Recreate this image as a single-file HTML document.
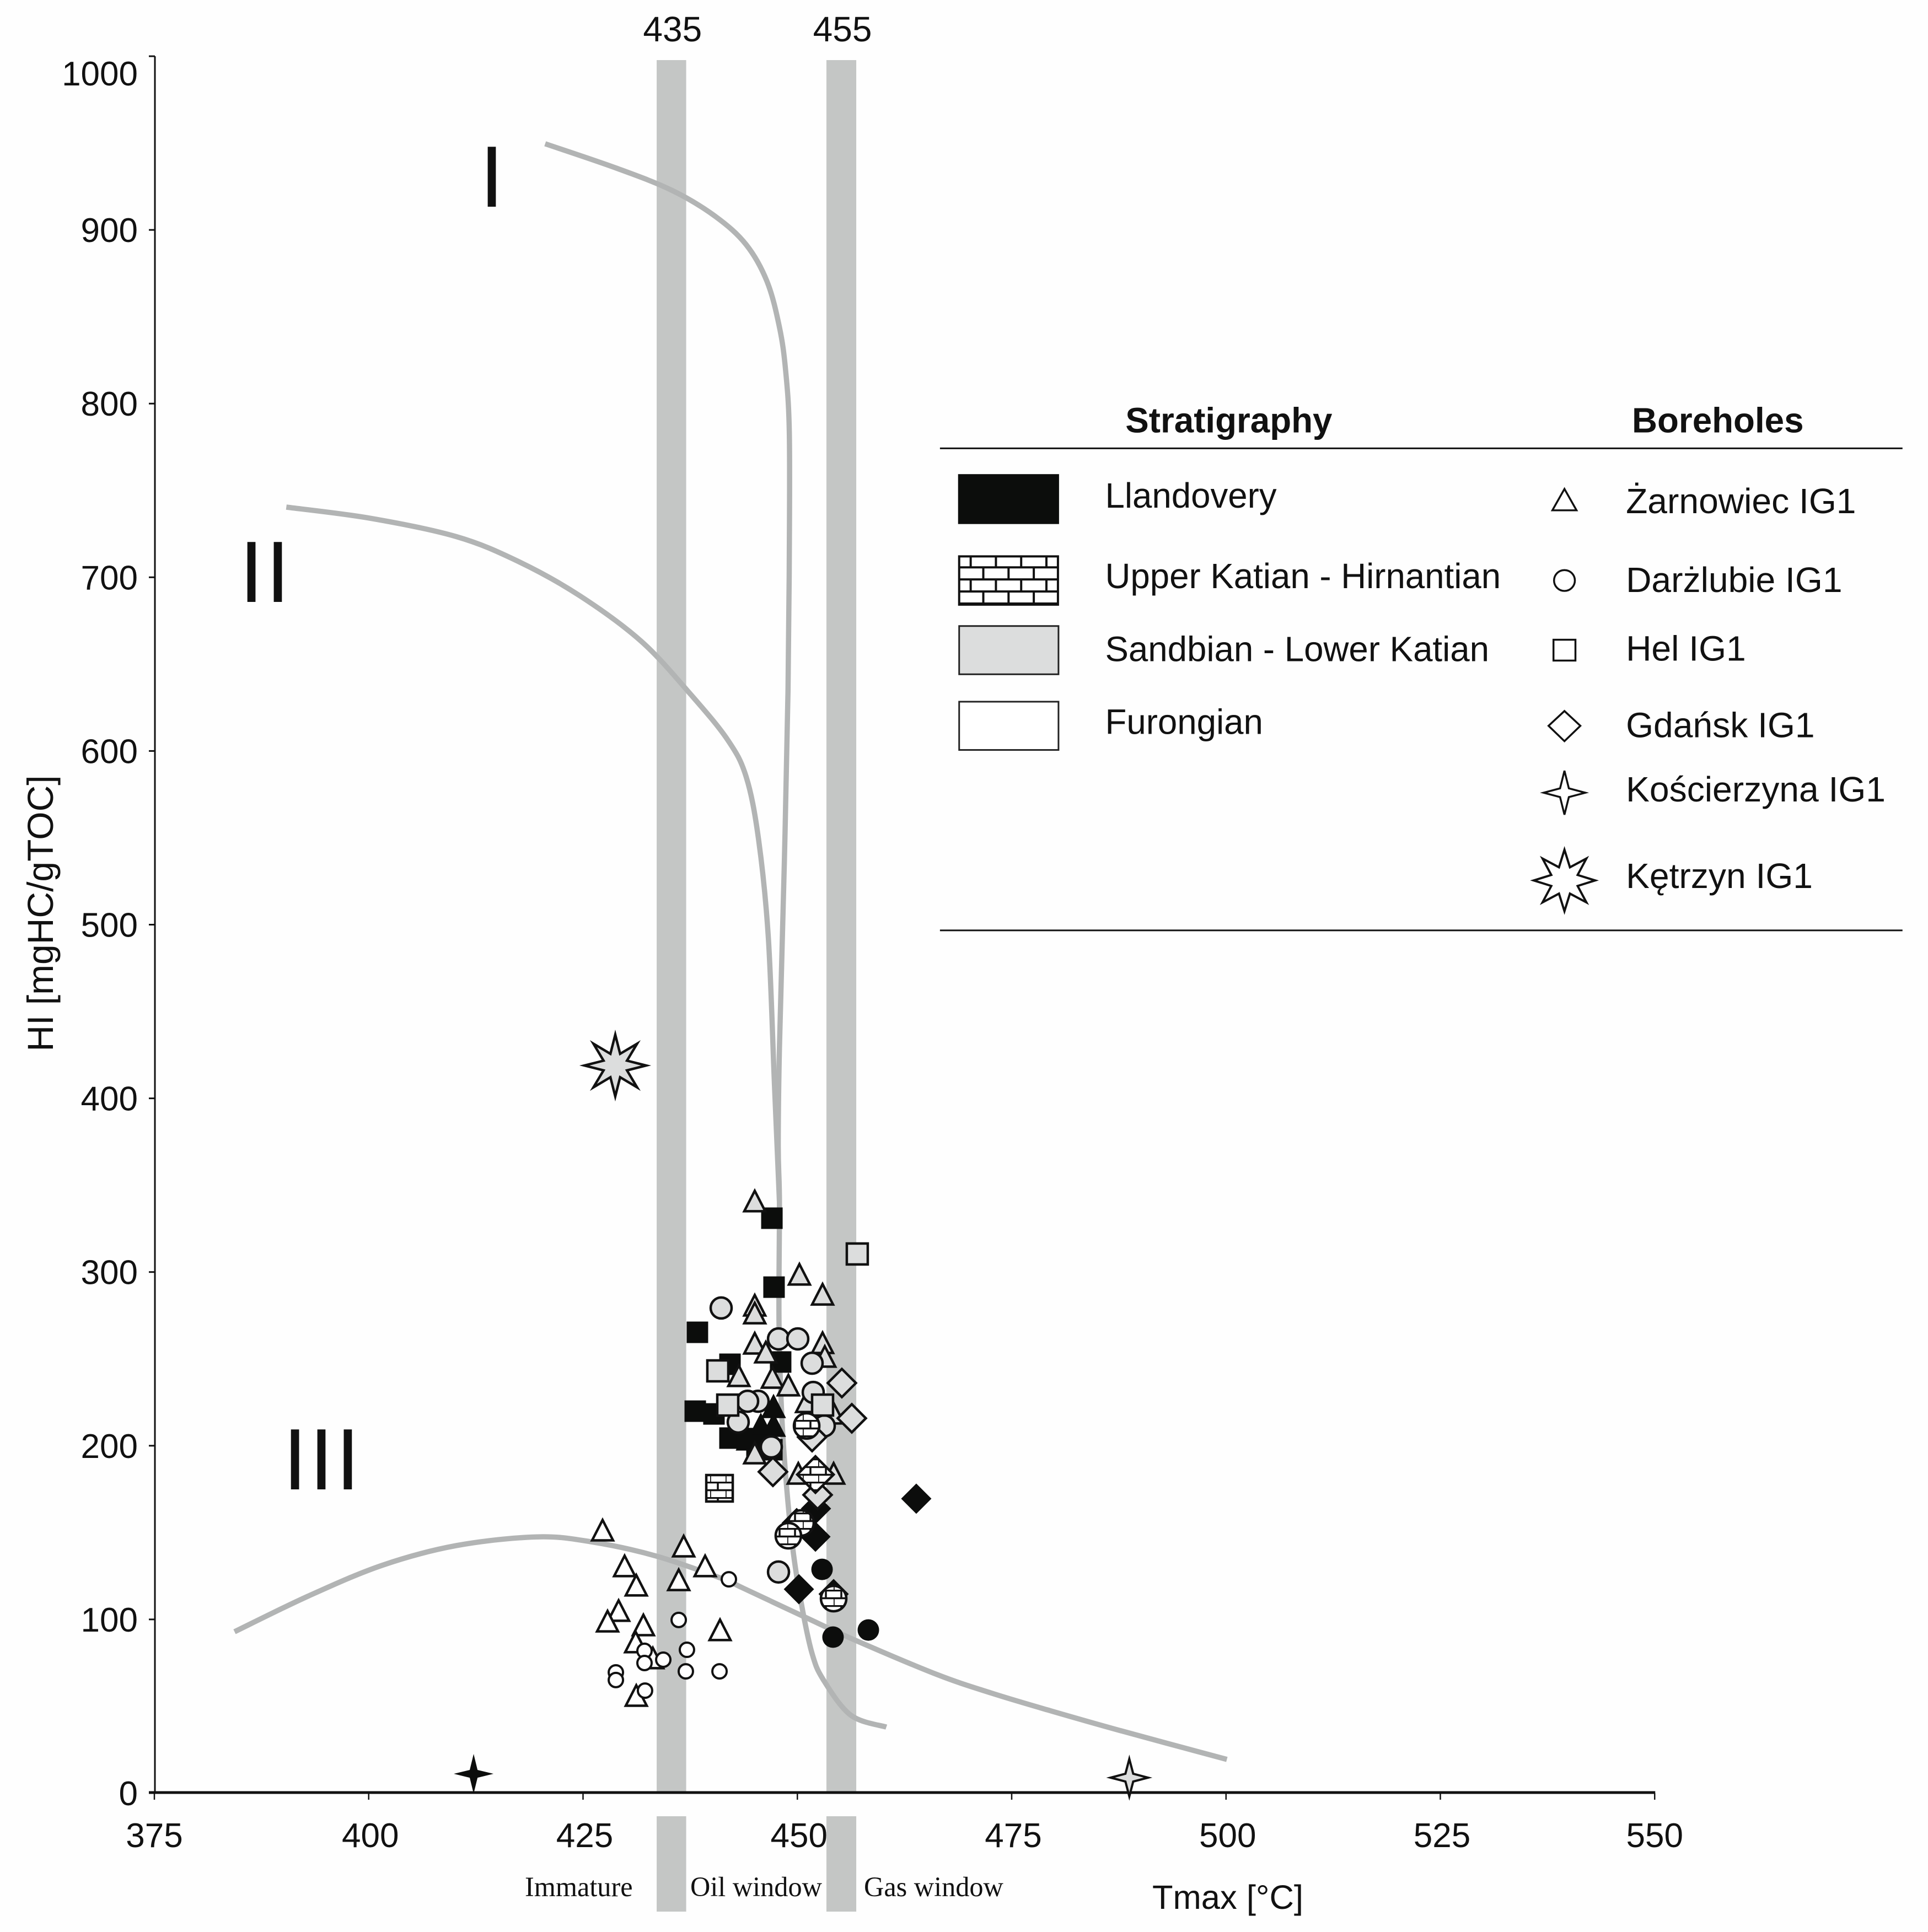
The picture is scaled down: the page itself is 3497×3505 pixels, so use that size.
<!DOCTYPE html>
<html lang="en">
<head>
<meta charset="utf-8">
<title>HI vs Tmax diagram</title>
<style>
html,body{margin:0;padding:0;background:#fefefe;}
svg{display:block;}
text{font-family:"Liberation Sans",sans-serif;fill:#111;}
.serif{font-family:"Liberation Serif",serif;}
</style>
</head>
<body>
<svg id="chart" xmlns="http://www.w3.org/2000/svg" width="3497" height="3505" viewBox="0 0 3497 3505">
<defs>
<pattern id="brick" patternUnits="userSpaceOnUse" width="28" height="28">
<rect width="28" height="28" fill="#fff"/>
<path d="M0 1.5H28M0 15.5H28M14 1.5V15.5M0 15.5V28" stroke="#111" stroke-width="3.5" fill="none"/>
</pattern>
<pattern id="brick-large" patternUnits="userSpaceOnUse" x="1738" y="1009" width="46" height="44">
<rect width="46" height="44" fill="#fff"/>
<path d="M0 22H46M0 44H46M0 0H46M23 0V22M0 22V44M46 22V44" stroke="#111" stroke-width="4" fill="none"/>
</pattern>
</defs>
<rect width="3497" height="3505" fill="#fefefe"/>
<g id="plot"></g>

<g transform="translate(7.8,3.64) scale(0.99536,0.9948)">
<line x1="1705" y1="814" x2="3459" y2="814" stroke="#111" stroke-width="3"/>
<line x1="1705" y1="1693" x2="3459" y2="1693" stroke="#111" stroke-width="3"/>
<text x="2043" y="785" font-size="64" font-weight="bold">Stratigraphy</text>
<text x="2966" y="785" font-size="64" font-weight="bold">Boreholes</text>

<rect x="1738" y="861" width="184" height="91" fill="#0c0d0c"/>
<rect x="1740" y="1011" width="180" height="88" fill="url(#brick-large)" stroke="#111" stroke-width="4"/>
<rect x="1740" y="1138" width="181" height="88" fill="#dcdddd" stroke="#222" stroke-width="3"/>
<rect x="1740" y="1276" width="181" height="88" fill="#fff" stroke="#222" stroke-width="3"/>

<text x="2006" y="922" font-size="63.9">Llandovery</text>
<text x="2006" y="1069" font-size="63.9">Upper Katian - Hirnantian</text>
<text x="2006" y="1202" font-size="63.9">Sandbian - Lower Katian</text>
<text x="2006" y="1335" font-size="63.9">Furongian</text>

<polygon points="2843,888 2865,927 2821,927" fill="#fff" stroke="#111" stroke-width="3.5"/>
<circle cx="2843" cy="1055" r="19" fill="#fff" stroke="#111" stroke-width="3.5"/>
<rect x="2823" y="1163" width="40" height="38" fill="#fff" stroke="#111" stroke-width="3.5"/>
<polygon points="2843,1293 2872,1320 2843,1348 2814,1320" fill="#fff" stroke="#111" stroke-width="3.5"/>
<polygon points="2843,1402 2851,1434 2881,1442 2851,1450 2843,1482 2835,1450 2805,1442 2835,1434" fill="#fff" stroke="#111" stroke-width="3.5"/>
<polygon points="2843,1546 2853,1578 2883,1562 2867,1592 2899,1602 2867,1612 2883,1642 2853,1626 2843,1658 2833,1626 2803,1642 2819,1612 2787,1602 2819,1592 2803,1562 2833,1578" fill="#fff" stroke="#111" stroke-width="4"/>

<text x="2955" y="932" font-size="64.5">Żarnowiec IG1</text>
<text x="2955" y="1076" font-size="64.5">Darżlubie IG1</text>
<text x="2955" y="1201" font-size="64.5">Hel IG1</text>
<text x="2955" y="1341" font-size="64.5">Gdańsk IG1</text>
<text x="2955" y="1458" font-size="64.5">Kościerzyna IG1</text>
<text x="2955" y="1616" font-size="64.5">Kętrzyn IG1</text>
</g>

<text x="892" y="375" font-size="158" text-anchor="middle" fill="#000">I</text>
<text x="482" y="1092" font-size="158" letter-spacing="4" text-anchor="middle" fill="#000">II</text>
<text x="585" y="2702" font-size="158" letter-spacing="4" text-anchor="middle" fill="#000">III</text>

<text x="0" y="0" font-size="66" text-anchor="middle" transform="translate(96,1657) rotate(-90)">HI [mgHC/gTOC]</text>
<text x="2227" y="3463" font-size="61.5" text-anchor="middle">Tmax [°C]</text>
<text class="serif" x="952" y="3440" font-size="50.3">Immature</text>
<text class="serif" x="1252" y="3440" font-size="50.3">Oil window</text>
<text class="serif" x="1567" y="3440" font-size="50.3">Gas window</text>
</svg>

<script>
/* ---------- axes ---------- */
const xTickValues = [375, 400, 425, 450, 475, 500, 525, 550];
const yTickValues = [0, 100, 200, 300, 400, 500, 600, 700, 800, 900, 1000];

/* ---------- maturity bands: start / end in Tmax degC ---------- */
const bandStarts = [433.59, 453.39];
const bandEnds = [437.03, 456.87];
const bandLabels = ['435', '455'];

/* ---------- kerogen curves: [Tmax, HI] ---------- */
const curveTypeI = [[420.58,949.6],[428.93,935.5],[435.40,922.7],[440.43,907.8],[444.03,891.5],[446.47,870.2],[447.91,844.0],[448.63,819.1],[449.06,783.7],[449.06,712.8],[448.91,634.8],[448.48,535.5],[447.91,429.1],[447.77,372.3],[447.91,340.4],[447.86,270.7],[448.18,217.7],[448.76,175.5],[449.53,138.4],[450.56,106.6],[451.72,80.3],[453.01,65.4],[456.22,44.9],[460.38,38.0]];
const curveTypeII = [[390.39,740.4],[400.17,734.0],[410.23,723.4],[417.42,709.2],[424.61,689.4],[431.80,663.1],[437.55,632.6],[441.87,606.4],[444.03,585.1],[445.46,549.6],[446.61,492.9],[447.33,407.8],[447.91,340.4]];
const curveTypeIII = [[384.35,92.9],[392.98,113.5],[401.60,131.2],[410.23,142.5],[419.58,147.5],[425.93,144.7],[433.52,136.5],[441.05,123.8],[443.81,117.7],[450.76,101.6],[456.67,88.2],[466.32,68.2],[472.75,57.4],[479.18,47.9],[487.73,35.9],[500.10,19.4]];

/* ---------- samples: [Tmax, HI] ---------- */
const sandbianCirclesBack = [[445.42,225.6]];
const llandoverySquares = [[447.03,331.0],[447.28,291.3],[438.34,265.3],[442.14,246.9],[448.05,248.2],[438.09,219.9],[440.27,218.3],[442.14,204.4],[444.13,204.1],[447.03,197.7],[445.29,199.9]];
const llandoveryTriangles = [[447.22,222.8],[447.22,212.0],[445.74,212.0],[444.26,204.1]];
const llandoveryDiamonds = [[463.87,169.5],[452.11,147.6],[452.17,163.8],[450.18,117.4],[449.92,155.5],[454.23,114.6]];
const llandoveryCircles = [[452.88,128.8],[454.16,89.8],[458.28,93.9]];
const llandoveryStars = [[412.24,11.1]];
const furongianTriangles = [[427.28,151.7],[436.74,142.5],[429.85,131.1],[431.21,120.0],[439.24,131.1],[436.16,123.1],[429.15,105.4],[427.86,99.3],[432.04,97.1],[440.98,94.3],[431.14,87.3],[433.14,78.1],[431.21,56.5]];
const furongianCircles = [[436.16,99.7],[437.12,82.5],[436.99,70.1],[440.92,70.1],[432.17,81.9],[432.17,74.9],[434.36,76.8],[428.83,69.5],[428.83,65.1],[432.23,59.0],[442.01,123.1]];
const sandbianTriangles = [[445.03,341.2],[450.24,299.0],[452.94,287.5],[445.03,281.2],[445.03,276.7],[445.03,259.3],[452.94,259.6],[453.20,251.7],[443.17,240.6],[447.09,239.6],[448.95,235.2],[451.08,225.6],[454.23,219.0],[445.03,196.1],[450.11,184.4],[454.23,184.4],[446.32,254.2]];
const sandbianCircles = [[441.11,279.3],[447.80,261.5],[450.05,261.5],[451.72,247.5],[451.85,230.7],[444.20,225.6],[443.10,213.6],[453.14,211.4],[446.96,199.3],[447.80,127.3]];
const sandbianSquares = [[456.99,310.4],[440.72,243.1],[441.88,223.4],[452.94,223.4]];
const sandbianDiamonds = [[455.19,236.1],[456.35,215.8],[451.72,205.0],[452.04,184.1],[447.15,185.0],[452.36,171.7]];
const sandbianStars = [[488.72,8.9]];
const sandbianBursts = [[428.76,418.9]];
const katianCircles = [[451.08,211.4],[450.43,155.5],[448.95,148.2],[454.23,112.0]];
const katianDiamonds = [[452.11,183.4]];
const katianSquares = [[440.92,175.5]];

/* ---------- scales ---------- */
const X_ORIGIN = 280, X_PER_DEGREE = 15.55;
const Y_ORIGIN = 3253, Y_PER_UNIT = 3.151;
function xScale(v) { return X_ORIGIN + (v - 375) * X_PER_DEGREE; }
function yScale(v) { return Y_ORIGIN - v * Y_PER_UNIT; }

const NS = 'http://www.w3.org/2000/svg';
const plot = document.getElementById('plot');

function make(tag, name, attrs, parent) {
  const el = document.createElementNS(NS, tag);
  
  
  for (const k in attrs) el.setAttribute(k, attrs[k]);
  (parent || plot).appendChild(el);
  return el;
}

/* bands */
bandStarts.forEach(function (start, i) {
  const x0 = xScale(start), x1 = xScale(bandEnds[i]);
  make('rect', 'maturity-band-' + bandLabels[i], {x: x0, y: 109, width: x1 - x0, height: Y_ORIGIN - 109, fill: '#c4c6c5'});
  make('rect', 'maturity-band-foot-' + bandLabels[i], {x: x0, y: 3295, width: x1 - x0, height: 173, fill: '#c4c6c5'});
  const t = make('text', 'band-label-' + bandLabels[i], {x: (x0 + x1) / 2 + 2, y: 75, 'font-size': 64, 'text-anchor': 'middle'});
  t.textContent = bandLabels[i];
});

/* curves */
function smoothPath(pts) {
  const p = pts.map(function (d) { return [xScale(d[0]), yScale(d[1])]; });
  let s = 'M' + p[0][0] + ' ' + p[0][1];
  for (let i = 0; i < p.length - 1; i++) {
    const a = p[Math.max(i - 1, 0)], b = p[i], c = p[i + 1], d = p[Math.min(i + 2, p.length - 1)];
    s += 'C' + (b[0] + (c[0] - a[0]) / 6) + ' ' + (b[1] + (c[1] - a[1]) / 6) + ' ' +
         (c[0] - (d[0] - b[0]) / 6) + ' ' + (c[1] - (d[1] - b[1]) / 6) + ' ' + c[0] + ' ' + c[1];
  }
  return s;
}
make('path', 'kerogen-curve-type-i', {d: smoothPath(curveTypeI), fill: 'none', stroke: '#b2b4b4', 'stroke-width': 9.5});
make('path', 'kerogen-curve-type-ii', {d: smoothPath(curveTypeII), fill: 'none', stroke: '#b2b4b4', 'stroke-width': 9.5});
make('path', 'kerogen-curve-type-iii', {d: smoothPath(curveTypeIII), fill: 'none', stroke: '#b2b4b4', 'stroke-width': 9.5});

/* axes */
make('line', 'y-axis-line', {x1: 281, y1: 102, x2: 281, y2: Y_ORIGIN, stroke: '#111', 'stroke-width': 3});
make('line', 'x-axis-line', {x1: 270, y1: Y_ORIGIN - 1, x2: xScale(550) + 1, y2: Y_ORIGIN - 1, stroke: '#111', 'stroke-width': 5});
xTickValues.forEach(function (v) {
  const x = xScale(v);
  make('line', 'x-tick-' + v, {x1: x, y1: Y_ORIGIN, x2: x, y2: Y_ORIGIN + 12, stroke: '#111', 'stroke-width': 2.5});
  const t = make('text', 'x-tick-label-' + v, {x: v === 375 || v === 550 ? x : x + 3, y: 3351, 'font-size': 62, 'text-anchor': 'middle'});
  t.textContent = v;
});
yTickValues.forEach(function (v) {
  const y = yScale(v);
  make('line', 'y-tick-' + v, {x1: 270, y1: y, x2: 281, y2: y, stroke: '#111', 'stroke-width': 3});
  const labelY = v === 1000 ? 133 : y;
  const t = make('text', 'y-tick-label-' + v, {x: 250, y: labelY + 22, 'font-size': 62, 'text-anchor': 'end'});
  t.textContent = v;
});

/* marker shapes */
function polyAt(cx, cy, offsets) {
  return offsets.map(function (o) { return (cx + o[0]) + ',' + (cy + o[1]); }).join(' ');
}
function drawCircle(name, d, r, style) {
  make('circle', name, Object.assign({cx: xScale(d[0]), cy: yScale(d[1]), r: r}, style));
}
function drawSquare(name, d, h, style) {
  make('rect', name, Object.assign({x: xScale(d[0]) - h, y: yScale(d[1]) - h, width: 2 * h, height: 2 * h}, style));
}
function drawDiamond(name, d, h, style) {
  make('polygon', name, Object.assign({points: polyAt(xScale(d[0]), yScale(d[1]), [[0, -h], [h, 0], [0, h], [-h, 0]])}, style));
}
function drawTriangle(name, d, style) {
  make('polygon', name, Object.assign({points: polyAt(xScale(d[0]), yScale(d[1]), [[0, -17.5], [19, 19.5], [-19, 19.5]]), 'stroke-miterlimit': 10}, style));
}
function drawStar(name, d, outer, inner, n, style) {
  const off = [];
  for (let i = 0; i < 2 * n; i++) {
    const r = i % 2 ? inner : outer, a = -Math.PI / 2 + i * Math.PI / n;
    off.push([r * Math.cos(a), r * Math.sin(a)]);
  }
  make('polygon', name, Object.assign({points: polyAt(xScale(d[0]), yScale(d[1]), off), 'stroke-miterlimit': 20}, style));
}

const BLACK = {fill: '#0c0d0c', stroke: 'none'};
const BLACK_TRI = {fill: '#0c0d0c', stroke: '#0c0d0c', 'stroke-width': 4.5};
const GREY = {fill: '#dcdddd', stroke: '#111', 'stroke-width': 4.5};
const WHITE = {fill: '#fff', stroke: '#111', 'stroke-width': 4.5};
const WHITE_SMALL = {fill: '#fff', stroke: '#111', 'stroke-width': 4};
const BRICK = {fill: 'url(#brick)', stroke: '#111', 'stroke-width': 4.5};

sandbianCirclesBack.forEach(function (d, i) { drawCircle('sandbian-circle-back-' + i, d, 19, GREY); });
llandoverySquares.forEach(function (d, i) { drawSquare('llandovery-square-' + i, d, 19.5, BLACK); });
llandoveryTriangles.forEach(function (d, i) { drawTriangle('llandovery-triangle-' + i, d, BLACK_TRI); });
llandoveryDiamonds.forEach(function (d, i) { drawDiamond('llandovery-diamond-' + i, d, 27.5, BLACK); });
llandoveryCircles.forEach(function (d, i) { drawCircle('llandovery-circle-' + i, d, 19.5, BLACK); });
llandoveryStars.forEach(function (d, i) { drawStar('llandovery-star-' + i, d, 36, 10, 4, BLACK); });
furongianTriangles.forEach(function (d, i) { drawTriangle('furongian-triangle-' + i, d, WHITE); });
furongianCircles.forEach(function (d, i) { drawCircle('furongian-circle-' + i, d, 13, WHITE_SMALL); });
sandbianTriangles.forEach(function (d, i) { drawTriangle('sandbian-triangle-' + i, d, GREY); });
sandbianCircles.forEach(function (d, i) { drawCircle('sandbian-circle-' + i, d, 19, GREY); });
sandbianSquares.forEach(function (d, i) { drawSquare('sandbian-square-' + i, d, 19, GREY); });
sandbianDiamonds.forEach(function (d, i) { drawDiamond('sandbian-diamond-' + i, d, 25.5, GREY); });
sandbianStars.forEach(function (d, i) { drawStar('sandbian-star-' + i, d, 34, 10, 4, {fill: '#dcdddd', stroke: '#111', 'stroke-width': 4}); });
sandbianBursts.forEach(function (d, i) { drawStar('sandbian-burst-' + i, d, 56, 23, 8, GREY); });
katianCircles.forEach(function (d, i) { drawCircle('katian-circle-' + i, d, 23, BRICK); });
katianDiamonds.forEach(function (d, i) { drawDiamond('katian-diamond-' + i, d, 33, BRICK); });
katianSquares.forEach(function (d, i) { drawSquare('katian-square-' + i, d, 24, BRICK); });
</script>
</body>
</html>
